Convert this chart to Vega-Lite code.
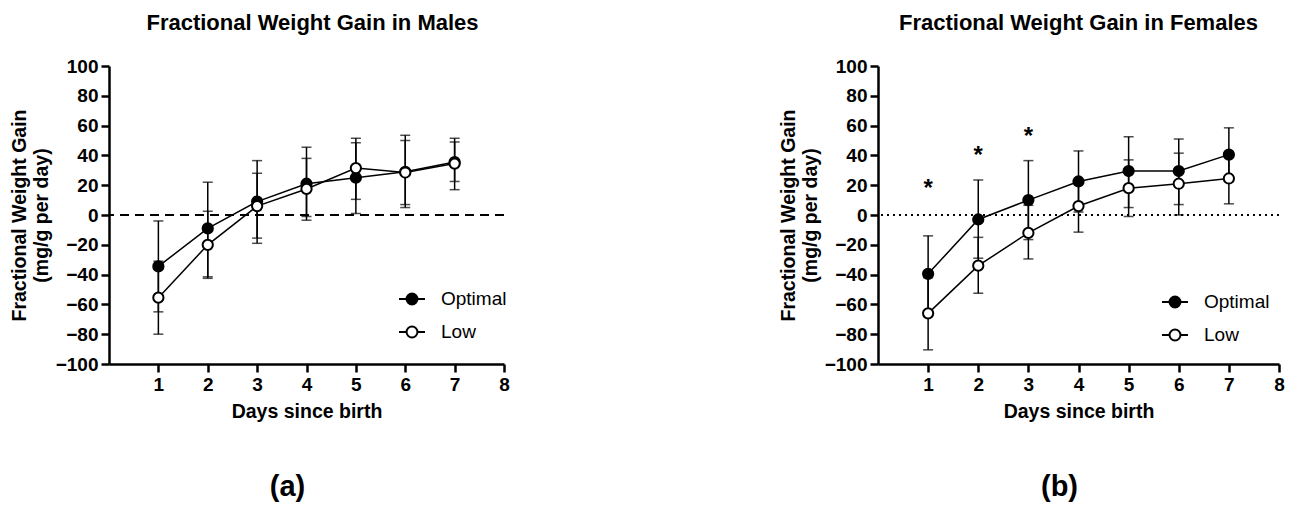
{
  "$schema": "https://vega.github.io/schema/vega-lite/v6.json",
  "background": "white",
  "padding": {"left": 9, "top": 12, "right": 5, "bottom": 5},
  "config": {
    "font": "Liberation Sans",
    "view": {"stroke": null},
    "axis": {"domainColor": "black", "domainWidth": 2.5, "tickColor": "black", "tickWidth": 2.5, "tickSize": 8, "labelFont": "Liberation Sans", "labelFontSize": 19, "labelFontWeight": "bold", "labelColor": "black", "labelPadding": 3, "labelOverlap": false, "labelBound": false, "labelFlush": false, "titleFont": "Liberation Sans", "titleFontSize": 19.5, "titleFontWeight": "bold", "titleColor": "black", "grid": false},
    "title": {"font": "Liberation Sans", "fontSize": 22, "fontWeight": "bold", "color": "black"},
    "legend": {"labelFont": "Liberation Sans", "labelFontSize": 19, "labelColor": "black", "symbolStrokeColor": "black", "symbolStrokeWidth": 2, "symbolOpacity": 1, "padding": 0, "rowPadding": 9, "labelOffset": 15, "symbolSize": 676, "symbolType": "M-1,0L-0.42,0M0.42,0L1,0M-0.42,0A0.42,0.42,0,1,0,0.42,0A0.42,0.42,0,1,0,-0.42,0Z"}
  },
  "datasets": {
    "males": [
      {"day": 1, "group": "Optimal", "mean": -34.5, "lo": -65, "hi": -4},
      {"day": 1, "group": "Low", "mean": -55.5, "lo": -80, "hi": -31},
      {"day": 2, "group": "Optimal", "mean": -9, "lo": -41.5, "hi": 22},
      {"day": 2, "group": "Low", "mean": -20, "lo": -42.5, "hi": 2.5},
      {"day": 3, "group": "Optimal", "mean": 9, "lo": -19, "hi": 36.5},
      {"day": 3, "group": "Low", "mean": 6, "lo": -15.5, "hi": 28},
      {"day": 4, "group": "Optimal", "mean": 21, "lo": -3.5, "hi": 45.5},
      {"day": 4, "group": "Low", "mean": 17.5, "lo": -1, "hi": 38},
      {"day": 5, "group": "Optimal", "mean": 25, "lo": 1, "hi": 48.5},
      {"day": 5, "group": "Low", "mean": 31.5, "lo": 10.5, "hi": 51.5},
      {"day": 6, "group": "Optimal", "mean": 29, "lo": 5, "hi": 53.5},
      {"day": 6, "group": "Low", "mean": 28.5, "lo": 7, "hi": 50},
      {"day": 7, "group": "Optimal", "mean": 35.5, "lo": 17, "hi": 51.5},
      {"day": 7, "group": "Low", "mean": 34.5, "lo": 22.5, "hi": 49}
    ],
    "females": [
      {"day": 1, "group": "Optimal", "mean": -39.5, "lo": -65, "hi": -14},
      {"day": 1, "group": "Low", "mean": -66, "lo": -90.5, "hi": -42},
      {"day": 2, "group": "Optimal", "mean": -3, "lo": -29, "hi": 23.5},
      {"day": 2, "group": "Low", "mean": -34, "lo": -52.5, "hi": -15},
      {"day": 3, "group": "Optimal", "mean": 10, "lo": -16.5, "hi": 36.5},
      {"day": 3, "group": "Low", "mean": -12, "lo": -29.5, "hi": 6.5},
      {"day": 4, "group": "Optimal", "mean": 22.5, "lo": 2, "hi": 43},
      {"day": 4, "group": "Low", "mean": 6, "lo": -11.5, "hi": 23},
      {"day": 5, "group": "Optimal", "mean": 29.5, "lo": 5, "hi": 52.5},
      {"day": 5, "group": "Low", "mean": 18, "lo": -1, "hi": 37},
      {"day": 6, "group": "Optimal", "mean": 29.5, "lo": 7, "hi": 51},
      {"day": 6, "group": "Low", "mean": 21, "lo": 0, "hi": 41.5},
      {"day": 7, "group": "Optimal", "mean": 40.5, "lo": 22.5, "hi": 58.5},
      {"day": 7, "group": "Low", "mean": 24.5, "lo": 7.5, "hi": 41.5}
    ],
    "stars": [
      {"day": 1, "y": 21, "label": "*"},
      {"day": 2, "y": 43, "label": "*"},
      {"day": 3, "y": 56, "label": "*"}
    ],
    "zero": [{"z": 0}]
  },
  "resolve": {"scale": {"fill": "independent", "x": "independent", "y": "independent"}, "legend": {"fill": "independent"}},
  "spacing": 268,
  "hconcat": [
    {
      "title": {"text": "(a)", "orient": "bottom", "fontSize": 29, "offset": 52, "anchor": "middle", "dx": 28},
      "resolve": {"legend": {"fill": "independent"}},
      "vconcat": [
        {
          "width": 395,
          "height": 298,
          "title": {"text": "Fractional Weight Gain in Males", "anchor": "middle", "frame": "group", "dx": 6, "offset": 22},
          "layer": [
            {
              "data": {"name": "zero"},
              "mark": {"type": "rule", "color": "black", "strokeWidth": 2, "strokeDash": [9, 6]},
              "encoding": {"y": {"field": "z", "type": "quantitative", "scale": {"domain": [-100, 100], "nice": false}, "axis": {"values": [-100, -80, -60, -40, -20, 0, 20, 40, 60, 80, 100], "tickCount": 11, "title": ["Fractional Weight Gain", "(mg/g per day)"], "titlePadding": 4}}}
            },
            {
              "data": {"name": "males"},
              "mark": {"type": "rule", "color": "black", "strokeWidth": 1.5},
              "encoding": {
                "x": {"field": "day", "type": "quantitative", "scale": {"domain": [0, 8], "nice": false}, "axis": {"values": [1, 2, 3, 4, 5, 6, 7, 8], "title": "Days since birth", "titlePadding": 8}},
                "y": {"field": "lo", "type": "quantitative"},
                "y2": {"field": "hi"}
              }
            },
            {
              "data": {"name": "males"},
              "mark": {"type": "tick", "orient": "horizontal", "size": 10, "thickness": 1.5, "color": "black"},
              "encoding": {"x": {"field": "day", "type": "quantitative"}, "y": {"field": "lo", "type": "quantitative"}}
            },
            {
              "data": {"name": "males"},
              "mark": {"type": "tick", "orient": "horizontal", "size": 10, "thickness": 1.5, "color": "black"},
              "encoding": {"x": {"field": "day", "type": "quantitative"}, "y": {"field": "hi", "type": "quantitative"}}
            },
            {
              "data": {"name": "males"},
              "mark": {"type": "line", "color": "black", "strokeWidth": 1.5},
              "encoding": {
                "x": {"field": "day", "type": "quantitative"},
                "y": {"field": "mean", "type": "quantitative"},
                "detail": {"field": "group"}
              }
            },
            {
              "data": {"name": "males"},
              "mark": {"type": "point", "shape": "circle", "filled": true, "stroke": "black", "strokeWidth": 2, "size": 105, "opacity": 1},
              "encoding": {
                "x": {"field": "day", "type": "quantitative"},
                "y": {"field": "mean", "type": "quantitative"},
                "fill": {"field": "group", "type": "nominal", "scale": {"domain": ["Optimal", "Low"], "range": ["black", "white"]}, "legend": {"title": null, "orient": "none", "legendX": 289, "legendY": 219}}
              }
            }
          ]
        }
      ]
    },
    {
      "title": {"text": "(b)", "orient": "bottom", "fontSize": 29, "offset": 52, "anchor": "middle", "dx": 28},
      "resolve": {"legend": {"fill": "independent"}},
      "vconcat": [
        {
          "width": 401,
          "height": 298,
          "title": {"text": "Fractional Weight Gain in Females", "anchor": "middle", "frame": "group", "offset": 22},
          "layer": [
            {
              "data": {"name": "zero"},
              "mark": {"type": "rule", "color": "black", "strokeWidth": 2, "strokeDash": [2, 4]},
              "encoding": {"y": {"field": "z", "type": "quantitative", "scale": {"domain": [-100, 100], "nice": false}, "axis": {"values": [-100, -80, -60, -40, -20, 0, 20, 40, 60, 80, 100], "tickCount": 11, "title": ["Fractional Weight Gain", "(mg/g per day)"], "titlePadding": 4}}}
            },
            {
              "data": {"name": "females"},
              "mark": {"type": "rule", "color": "black", "strokeWidth": 1.5},
              "encoding": {
                "x": {"field": "day", "type": "quantitative", "scale": {"domain": [0, 8], "nice": false}, "axis": {"values": [1, 2, 3, 4, 5, 6, 7, 8], "title": "Days since birth", "titlePadding": 8}},
                "y": {"field": "lo", "type": "quantitative"},
                "y2": {"field": "hi"}
              }
            },
            {
              "data": {"name": "females"},
              "mark": {"type": "tick", "orient": "horizontal", "size": 10, "thickness": 1.5, "color": "black"},
              "encoding": {"x": {"field": "day", "type": "quantitative"}, "y": {"field": "lo", "type": "quantitative"}}
            },
            {
              "data": {"name": "females"},
              "mark": {"type": "tick", "orient": "horizontal", "size": 10, "thickness": 1.5, "color": "black"},
              "encoding": {"x": {"field": "day", "type": "quantitative"}, "y": {"field": "hi", "type": "quantitative"}}
            },
            {
              "data": {"name": "females"},
              "mark": {"type": "line", "color": "black", "strokeWidth": 1.5},
              "encoding": {
                "x": {"field": "day", "type": "quantitative"},
                "y": {"field": "mean", "type": "quantitative"},
                "detail": {"field": "group"}
              }
            },
            {
              "data": {"name": "stars"},
              "mark": {"type": "text", "fontSize": 24, "fontWeight": "bold", "color": "black", "baseline": "middle", "dy": 5},
              "encoding": {"x": {"field": "day", "type": "quantitative"}, "y": {"field": "y", "type": "quantitative"}, "text": {"field": "label"}}
            },
            {
              "data": {"name": "females"},
              "mark": {"type": "point", "shape": "circle", "filled": true, "stroke": "black", "strokeWidth": 2, "size": 105, "opacity": 1},
              "encoding": {
                "x": {"field": "day", "type": "quantitative"},
                "y": {"field": "mean", "type": "quantitative"},
                "fill": {"field": "group", "type": "nominal", "scale": {"domain": ["Optimal", "Low"], "range": ["black", "white"]}, "legend": {"title": null, "orient": "none", "legendX": 283, "legendY": 222}}
              }
            }
          ]
        }
      ]
    }
  ]
}
